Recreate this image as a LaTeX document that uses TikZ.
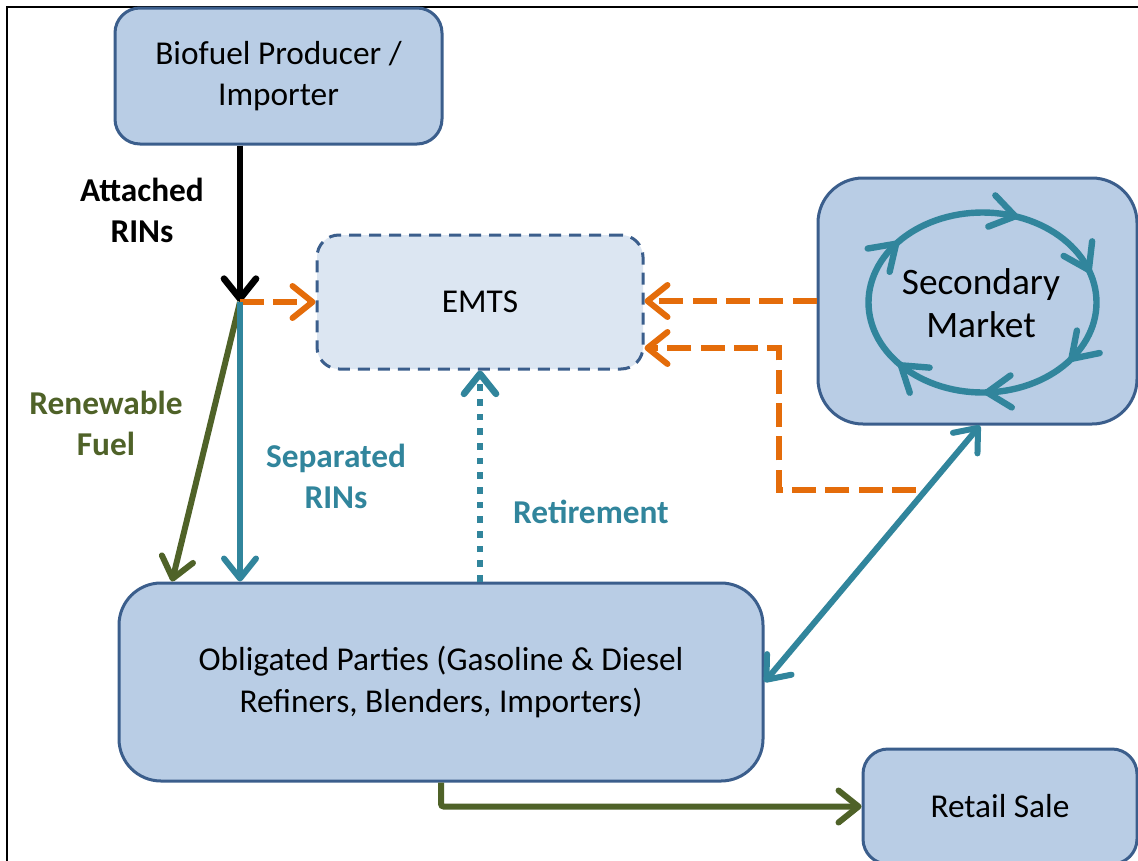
\documentclass[tikz,border=0pt]{standalone}
\usepackage{fontspec}
\setmainfont{Carlito}
\usetikzlibrary{arrows.meta}
\definecolor{boxfill}{HTML}{B9CDE5}
\definecolor{boxline}{HTML}{3B5E8C}
\definecolor{emtsfill}{HTML}{DCE6F2}
\definecolor{grn}{HTML}{4F6228}
\definecolor{teal}{HTML}{31859C}
\definecolor{orn}{HTML}{E46C0A}
\tikzset{
  box/.style={draw=boxline, fill=boxfill, line width=2.25pt, align=center, inner sep=0pt,
    font=\fontsize{25}{31}\selectfont},
  lbl/.style={align=center, inner sep=0pt, font=\fontsize{25}{30.75}\selectfont\bfseries},
  barb/.style={-{Straight Barb[length=15pt,width=24pt,round]}},
  dbarb/.style={{Straight Barb[length=15pt,width=24pt,round]}-{Straight Barb[length=15pt,width=24pt,round]}},
  blkarrow/.style={barb, draw=black, line width=5pt},
  grnarrow/.style={barb, draw=grn, line width=4.5pt},
  tealarrow/.style={barb, draw=teal, line width=4.5pt},
  ornarrow/.style={barb, draw=orn, line width=4.5pt, dash pattern=on 18pt off 7pt},
  cycline/.style={draw=teal, line width=4.8pt, line cap=round, line join=round},
}
\begin{document}
\begin{tikzpicture}[x=0.75pt,y=-0.75pt]
\useasboundingbox (0,0) rectangle (1138,860);
\clip (0,0) rectangle (1138,860);
\fill[white] (0,0) rectangle (1138,860);
\draw[line width=1.5pt] (7,870) -- (7,7) -- (1145,7);

% nodes
\node[box, minimum width=245.25pt, minimum height=102pt, rounded corners=18.75pt] (bio) at (278.5,76) {Biofuel Producer /\\Importer};
\node[box, fill=emtsfill, dash pattern=on 9pt off 6pt, minimum width=244.5pt, minimum height=100.5pt, rounded corners=16.5pt] (emts) at (480,302) {EMTS};
\node[box, minimum width=239.25pt, minimum height=184.5pt, rounded corners=33.75pt] (sec) at (977.5,301) {};
\node[box, minimum width=483pt, minimum height=148.5pt, rounded corners=31.5pt] (obl) at (441,682) {Obligated Parties (Gasoline \& Diesel\\Refiners, Blenders, Importers)};
\node[box, minimum width=205.5pt, minimum height=86.25pt, rounded corners=18.75pt] (ret) at (1000,806.5) {Retail Sale};

% cycle in secondary market (math-oriented scope: y up)
\begin{scope}[x=0.75pt, y=0.75pt]
  \draw[cycline] plot[domain=0:357, samples=120] ({982.5+114*cos(\x)},{-302.5+90*sin(\x)}) -- cycle;
  \foreach \t in {-38,-87,-135,-220,-286,-338} {
    \pgfmathsetmacro\ang{atan2(-90*cos(\t),114*sin(\t))}
    \draw[cycline, shift={({982.5+114*cos(\t)},{-302.5+90*sin(\t)})}, rotate=\ang]
      (-17pt,12pt) -- (1pt,0pt) -- (-17pt,-12pt);
  }
\end{scope}
\node[align=center, inner sep=0pt, font=\fontsize{28}{32}\selectfont] (sectext) at (981,303) {Secondary\\Market};

% connectors
\coordinate (j) at (240,302);
\draw[blkarrow] (bio.south -| j) -- (j);
\draw[ornarrow] (j) -- (emts.west);
\draw[grnarrow] (j) -- (obl.north -| 172,0);
\draw[tealarrow] (j) -- (obl.north -| j);
\draw[barb, draw=teal, line width=5pt, dash pattern=on 5pt off 6pt] (obl.north -| emts.south) -- (emts.south);
\draw[ornarrow] (sec.west) -- (emts.east |- sec.west);
\coordinate (o2) at (916,490);
\draw[ornarrow] (o2) -| (779,348) -- (emts.east |- 779,348);
\draw[dbarb, draw=teal, line width=4.5pt] (obl.east) -- (sec.south -| 980,0);
\draw[grnarrow, rounded corners=2pt] (obl.south) |- (ret.west);

% labels
\node[lbl] (att) at (142,210.5) {Attached\\RINs};
\node[lbl, text=grn] (ren) at (106,423) {Renewable\\Fuel};
\node[lbl, text=teal] (sep) at (336,476) {Separated\\RINs};
\node[lbl, text=teal] (retl) at (591,512) {Retirement};
\end{tikzpicture}
\end{document}
